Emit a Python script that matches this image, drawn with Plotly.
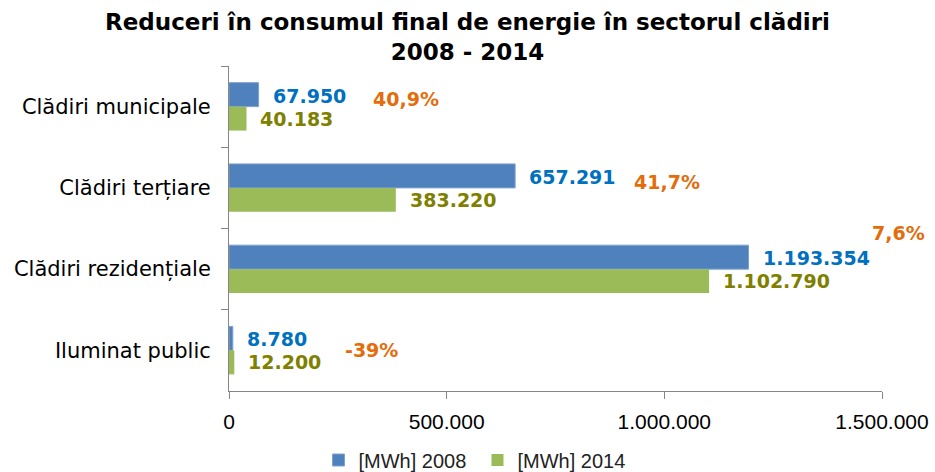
import plotly.graph_objects as go

categories = ["Clădiri municipale", "Clădiri terțiare", "Clădiri rezidențiale", "Iluminat public"]
mwh_2008 = [67950, 657291, 1193354, 8780]
mwh_2014 = [40183, 383220, 1102790, 12200]
reduction_labels = ["40,9%", "41,7%", "7,6%", "-39%"]
series_names = ["[MWh] 2008", "[MWh] 2014"]
x_tickvals = [0, 500000, 1000000, 1500000]
x_ticktext = ["0", "500.000", "1.000.000", "1.500.000"]
title_lines = ["Reduceri în consumul final de energie în sectorul clădiri", "2008 - 2014"]

BLUE = "#4F81BD"
GREEN = "#9BBB59"
BLUE_TXT = "#0070C0"
GREEN_TXT = "#7F7F00"
ORANGE = "#E46C0A"
AXIS = "#868686"


def fmt(v):
    return f"{v:,}".replace(",", ".")


fig = go.Figure()
fig.add_trace(go.Bar(y=categories, x=mwh_2008, orientation="h", name=series_names[0],
                     marker=dict(color=BLUE, line=dict(color="#7FA2CE", width=1))))
fig.add_trace(go.Bar(y=categories, x=mwh_2014, orientation="h", name=series_names[1],
                     marker=dict(color=GREEN, line=dict(width=0))))

annotations = []
lab_font = dict(family="DejaVu Sans", size=19)
for cat, v in zip(categories, mwh_2008):
    annotations.append(dict(x=v, y=cat, xref="x", yref="y", text="<b>" + fmt(v) + "</b>",
                            showarrow=False, xanchor="left", yanchor="middle",
                            xshift=12, yshift=11, font=dict(lab_font, color=BLUE_TXT)))
for cat, v in zip(categories, mwh_2014):
    annotations.append(dict(x=v, y=cat, xref="x", yref="y", text="<b>" + fmt(v) + "</b>",
                            showarrow=False, xanchor="left", yanchor="middle",
                            xshift=12, yshift=-12, font=dict(lab_font, color=GREEN_TXT)))
pct_xshift = [112, 117, 121, 110]
pct_yshift = [8, 6, 36, 0]
for i, (cat, v, lab) in enumerate(zip(categories, mwh_2008, reduction_labels)):
    annotations.append(dict(x=v, y=cat, xref="x", yref="y", text="<b>" + lab + "</b>",
                            showarrow=False, xanchor="left", yanchor="middle",
                            xshift=pct_xshift[i], yshift=pct_yshift[i],
                            font=dict(lab_font, color=ORANGE)))

# title as annotation centred on the whole figure
annotations.append(dict(text="<b>" + "<br>".join(title_lines) + "</b>",
                        x=0.5, xref="paper", y=1, yref="paper",
                        xanchor="center", yanchor="middle", showarrow=False,
                        xshift=(935 / 2) - (229 + (935 - 229 - 53) / 2), yshift=29,
                        font=dict(family="DejaVu Sans", size=23, color="black")))

fig.update_layout(
    width=935, height=472,
    margin=dict(l=229, r=53, t=66, b=81, autoexpand=False),
    paper_bgcolor="white", plot_bgcolor="white",
    barmode="group", bargap=0.41, bargroupgap=0,
    showlegend=True,
    legend=dict(orientation="h", x=0.5 + 10 / 935, xanchor="center", xref="container",
                y=-(460 - 391) / 325, yanchor="middle", yref="paper",
                font=dict(family="Liberation Sans", size=20, color="#222222"),
                itemwidth=30, entrywidth=114, traceorder="normal"),
    annotations=annotations,
)
fig.update_xaxes(range=[0, 1500000], tickvals=x_tickvals, ticktext=x_ticktext,
                 showgrid=False, zeroline=False, showline=True, linecolor=AXIS, linewidth=1,
                 ticks="outside", ticklen=7, tickcolor=AXIS, automargin=False,
                 ticklabelstandoff=5,
                 tickfont=dict(family="Liberation Sans", size=21, color="black"))
fig.update_yaxes(autorange="reversed", categoryorder="array", categoryarray=categories,
                 showgrid=False, showline=True, linecolor=AXIS, linewidth=1,
                 ticks="outside", ticklen=7, tickcolor=AXIS, tickson="boundaries",
                 automargin=False, ticklabelstandoff=13,
                 tickfont=dict(family="DejaVu Sans", size=21, color="black"))

fig.write_html("out.html", config={"displayModeBar": False},
               post_script="document.body.style.margin='0';document.body.style.overflow='hidden';")
